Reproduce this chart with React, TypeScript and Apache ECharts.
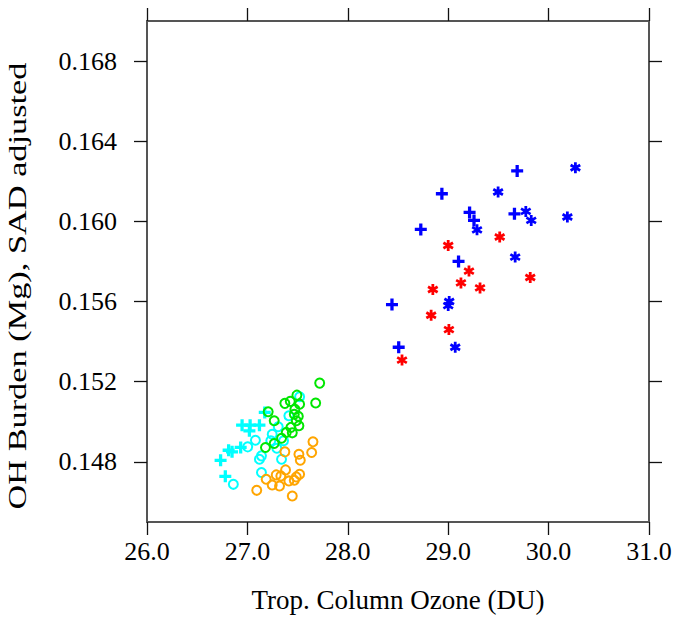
import React, { useEffect, useRef } from "react";
import * as echarts from "echarts";

const xTicks = [26, 27, 28, 29, 30, 31];
const yTicks = [0.148, 0.152, 0.156, 0.16, 0.164, 0.168];
const xTitle = "Trop. Column Ozone (DU)";
const yTitle = "OH Burden (Mg), SAD adjusted";

const blueCross: number[][] = [
  [29.687, 0.16252], [28.937, 0.16138], [29.213, 0.16045], [29.257, 0.16005],
  [29.66, 0.16038], [28.727, 0.1596], [29.103, 0.158], [28.44, 0.15585], [28.507, 0.15372],
];
const blueStar: number[][] = [
  [29.497, 0.16147], [29.773, 0.1605], [29.827, 0.16005], [29.287, 0.15958],
  [29.667, 0.15822], [29.0, 0.1558], [29.01, 0.156], [29.07, 0.15372],
  [30.267, 0.16268], [30.187, 0.16022],
];
const redStar: number[][] = [
  [29.513, 0.15922], [29.0, 0.1588], [29.207, 0.15752], [29.127, 0.15693],
  [29.317, 0.15668], [29.817, 0.1572], [28.847, 0.1566], [28.83, 0.15532],
  [29.007, 0.1546], [28.54, 0.15308],
];
const cyanCross: number[][] = [
  [27.173, 0.15047], [26.947, 0.14983], [27.027, 0.14983], [27.12, 0.14983],
  [27.02, 0.14955], [26.813, 0.14858], [26.847, 0.1485], [26.933, 0.14872],
  [26.733, 0.14808], [26.78, 0.14728],
];
const cyanCircle: number[][] = [
  [27.52, 0.15125], [27.413, 0.1503], [27.307, 0.14975], [27.247, 0.14938],
  [27.233, 0.14905], [27.36, 0.14905], [27.08, 0.14908], [27.003, 0.14875],
  [27.293, 0.14868], [27.14, 0.1483], [27.12, 0.14813], [27.34, 0.14813],
  [27.14, 0.14747], [26.86, 0.14688],
];
const orangeCircle: number[][] = [
  [27.653, 0.149], [27.64, 0.14847], [27.513, 0.14838], [27.527, 0.14808],
  [27.373, 0.1485], [27.38, 0.1476], [27.287, 0.14735], [27.187, 0.14713],
  [27.333, 0.1473], [27.413, 0.14705], [27.487, 0.14725], [27.52, 0.14738],
  [27.467, 0.14708], [27.247, 0.14685], [27.32, 0.1468], [27.093, 0.14658],
  [27.447, 0.1463],
];
const greenCircle: number[][] = [
  [27.72, 0.15193], [27.68, 0.15094], [27.493, 0.15133], [27.52, 0.15088],
  [27.373, 0.15092], [27.427, 0.15102], [27.473, 0.15062], [27.207, 0.1505],
  [27.467, 0.15038], [27.507, 0.15028], [27.487, 0.15005], [27.267, 0.15005],
  [27.513, 0.1498], [27.433, 0.14972], [27.387, 0.14947], [27.447, 0.14945],
  [27.34, 0.14918], [27.267, 0.14892], [27.18, 0.14872],
];

const PLUS = "path://M4,0H7V4H11V7H7V11H4V7H0V4H4Z";
const STAR =
  "path://M-1.25,-5L1.25,-5L1.25,5L-1.25,5Z" +
  "M3.705,-3.5825L4.955,-1.4175L-3.705,3.5825L-4.955,1.4175Z" +
  "M-4.955,-1.4175L-3.705,-3.5825L4.955,1.4175L3.705,3.5825Z";

const FONT = "'Liberation Serif', 'DejaVu Serif', serif";

function crossSeries(data: number[][], color: string) {
  return {
    type: "scatter",
    data,
    symbol: PLUS,
    symbolSize: 12,
    itemStyle: { color, opacity: 1 },
    xAxisIndex: 0,
    yAxisIndex: 0,
  };
}
function starSeries(data: number[][], color: string) {
  return {
    type: "scatter",
    data,
    symbol: STAR,
    symbolSize: 11,
    itemStyle: { color, opacity: 1 },
    xAxisIndex: 0,
    yAxisIndex: 0,
  };
}
function circleSeries(data: number[][], color: string) {
  return {
    type: "scatter",
    data,
    symbol: "circle",
    symbolSize: 9,
    itemStyle: { color: "transparent", borderColor: color, borderWidth: 2, opacity: 1 },
    xAxisIndex: 0,
    yAxisIndex: 0,
  };
}

export default function App() {
  const ref = useRef<HTMLDivElement>(null);
  useEffect(() => {
    document.body.style.margin = "0";
    if (!ref.current) return;
    const chart = echarts.init(ref.current, undefined, { renderer: "svg" });
    const axisLine = { show: true, onZero: false, lineStyle: { color: "#555", width: 2 } };
    const tick = { show: true, length: 13, lineStyle: { color: "#111", width: 1.3 } };
    chart.setOption({
      animation: false,
      backgroundColor: "#fff",
      grid: { left: 147, right: 27, top: 21, bottom: 95, containLabel: false },
      graphic: [
        {
          type: "text",
          x: 17,
          y: 286,
          rotation: Math.PI / 2,
          scaleX: 1.32,
          scaleY: 1,
          style: {
            text: yTitle,
            fill: "#000",
            font: "26px " + FONT,
            align: "center",
            verticalAlign: "middle",
          },
        },
      ],
      xAxis: [
        {
          type: "value",
          position: "bottom",
          min: xTicks[0],
          max: xTicks[xTicks.length - 1],
          interval: 1,
          axisLine,
          axisTick: tick,
          splitLine: { show: false },
          axisLabel: {
            margin: 16,
            color: "#000",
            fontFamily: FONT,
            fontSize: 26,
            formatter: (v: number) => v.toFixed(1),
          },
          name: xTitle,
          nameLocation: "middle",
          nameGap: 64,
          nameTextStyle: { color: "#000", fontFamily: FONT, fontSize: 27, verticalAlign: "top" },
        },
        {
          type: "value",
          position: "top",
          min: xTicks[0],
          max: xTicks[xTicks.length - 1],
          interval: 1,
          axisLine,
          axisTick: tick,
          splitLine: { show: false },
          axisLabel: { show: false },
        },
      ],
      yAxis: [
        {
          type: "value",
          position: "left",
          min: 0.145,
          max: 0.17,
          axisLine,
          axisTick: { ...tick, customValues: yTicks },
          splitLine: { show: false },
          axisLabel: {
            customValues: yTicks,
            margin: 30,
            color: "#000",
            fontFamily: FONT,
            fontSize: 26,
            formatter: (v: number) => v.toFixed(3),
          },
        },
        {
          type: "value",
          position: "right",
          min: 0.145,
          max: 0.17,
          axisLine,
          axisTick: { ...tick, customValues: yTicks },
          splitLine: { show: false },
          axisLabel: { show: false, customValues: yTicks },
        },
      ],
      series: [
        circleSeries(cyanCircle, "#00ffff"),
        crossSeries(cyanCross, "#00ffff"),
        circleSeries(orangeCircle, "#ffa500"),
        circleSeries(greenCircle, "#00e600"),
        crossSeries(blueCross, "#0000ff"),
        starSeries(blueStar, "#0000ff"),
        starSeries(redStar, "#ff0000"),
      ],
    });
    return () => chart.dispose();
  }, []);
  return <div ref={ref} style={{ width: 676, height: 618 }} />;
}
